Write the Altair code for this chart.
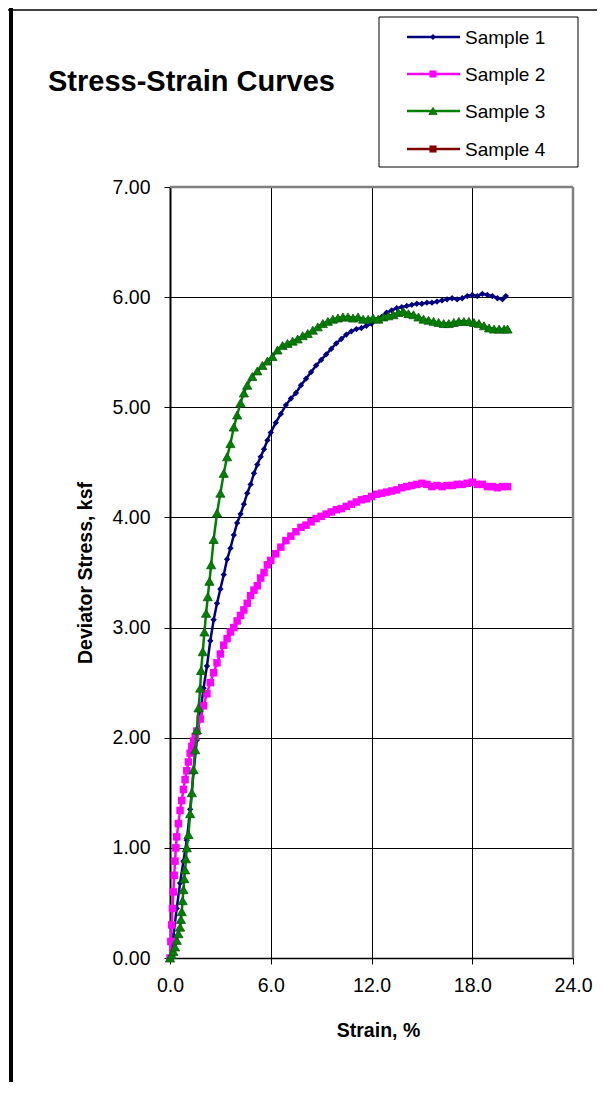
import altair as alt
import pandas as pd

# ---------------- data ----------------
series_names = ["Sample 1", "Sample 2", "Sample 3", "Sample 4"]
series_colors = ["#000080", "#FF00FF", "#008000", "#800000"]
series_shapes = ["diamond", "square", "triangle-up", "square"]

s1_strain = [0.0, 0.2, 0.4, 0.6, 0.8, 1.0, 1.2, 1.4, 1.6, 1.8, 2.0, 2.2, 2.4, 2.6, 2.8,
             3.0, 3.2, 3.4, 3.6, 3.8, 4.0, 4.2, 4.4, 4.6, 4.8, 5.0, 5.2, 5.4, 5.6, 5.8,
             6.0, 6.3, 6.6, 6.9, 7.2, 7.5, 7.8, 8.1, 8.4, 8.7, 9.0, 9.3, 9.6, 9.9, 10.2,
             10.5, 10.8, 11.1, 11.4, 11.7, 12.0, 12.3, 12.6, 12.9, 13.2, 13.5, 13.8, 14.1,
             14.4, 14.7, 15.0, 15.3, 15.6, 15.9, 16.2, 16.5, 16.8, 17.1, 17.4, 17.7, 18.0,
             18.3, 18.6, 18.9, 19.2, 19.5, 19.8, 20.0]
s1_stress = [0.00, 0.20, 0.45, 0.68, 0.88, 1.07, 1.35, 1.68, 1.98, 2.22, 2.45, 2.65, 2.88, 3.07, 3.22,
             3.35, 3.48, 3.62, 3.72, 3.84, 3.95, 4.03, 4.12, 4.22, 4.30, 4.40, 4.48, 4.55, 4.62, 4.70,
             4.77, 4.86, 4.94, 5.02, 5.08, 5.13, 5.20, 5.26, 5.32, 5.38, 5.43, 5.48, 5.53, 5.58, 5.62,
             5.66, 5.69, 5.71, 5.72, 5.74, 5.76, 5.79, 5.82, 5.86, 5.88, 5.90, 5.91, 5.92,
             5.93, 5.94, 5.94, 5.95, 5.95, 5.96, 5.97, 5.98, 5.99, 5.98, 5.99, 6.01, 6.02,
             6.01, 6.03, 6.02, 6.01, 5.99, 5.98, 6.01]

s2_strain = [0.0, 0.05, 0.1, 0.15, 0.2, 0.25, 0.3, 0.35, 0.4, 0.5, 0.6, 0.7, 0.8, 0.9, 1.0,
             1.1, 1.2, 1.3, 1.4, 1.5, 1.6, 1.8, 2.0, 2.2, 2.4, 2.6, 2.8, 3.0, 3.2, 3.4,
             3.6, 3.8, 4.0, 4.2, 4.4, 4.6, 4.8, 5.0, 5.2, 5.4, 5.6, 5.8, 6.0, 6.3, 6.6,
             6.9, 7.2, 7.5, 7.8, 8.1, 8.4, 8.7, 9.0, 9.3, 9.6, 9.9, 10.2, 10.5, 10.8, 11.1,
             11.4, 11.7, 12.0, 12.3, 12.6, 12.9, 13.2, 13.5, 13.8, 14.1, 14.4, 14.7, 15.0,
             15.3, 15.6, 15.9, 16.2, 16.5, 16.8, 17.1, 17.4, 17.7, 18.0, 18.3, 18.6, 18.9,
             19.2, 19.5, 19.8, 20.1]
s2_stress = [0.00, 0.15, 0.30, 0.45, 0.60, 0.75, 0.88, 1.00, 1.10, 1.22, 1.34, 1.43, 1.53, 1.62, 1.70,
             1.78, 1.86, 1.92, 1.97, 2.01, 2.06, 2.17, 2.29, 2.40, 2.50, 2.59, 2.68, 2.76, 2.84, 2.90,
             2.96, 3.00, 3.06, 3.11, 3.16, 3.22, 3.29, 3.34, 3.38, 3.45, 3.50, 3.57, 3.61, 3.67, 3.73,
             3.79, 3.83, 3.87, 3.91, 3.93, 3.96, 3.99, 4.01, 4.03, 4.05, 4.07, 4.08, 4.10, 4.12, 4.14,
             4.16, 4.17, 4.19, 4.21, 4.22, 4.23, 4.24, 4.25, 4.27, 4.28, 4.29, 4.30, 4.31,
             4.30, 4.28, 4.29, 4.28, 4.29, 4.29, 4.30, 4.30, 4.31, 4.32, 4.30, 4.30, 4.28,
             4.28, 4.27, 4.28, 4.28]

s3_strain = [0.0, 0.1, 0.2, 0.3, 0.4, 0.5, 0.6, 0.65, 0.7, 0.75, 0.8, 0.85, 0.9, 0.95, 1.0,
             1.1, 1.2, 1.3, 1.4, 1.5, 1.6, 1.7, 1.8, 1.85, 1.95, 2.05, 2.15, 2.25, 2.35, 2.45,
             2.6, 2.8, 3.0, 3.2, 3.4, 3.6, 3.8, 4.0, 4.2, 4.4, 4.6, 4.9, 5.2, 5.5, 5.8,
             6.1, 6.4, 6.7, 7.0, 7.3, 7.6, 7.9, 8.2, 8.5, 8.8, 9.1, 9.4, 9.7, 10.0, 10.3,
             10.6, 10.9, 11.2, 11.5, 11.8, 12.1, 12.4, 12.7, 13.0, 13.3, 13.6, 13.9, 14.2,
             14.5, 14.8, 15.1, 15.4, 15.7, 16.0, 16.3, 16.6, 16.9, 17.2, 17.5, 17.8, 18.1,
             18.4, 18.7, 19.0, 19.3, 19.6, 19.9, 20.1]
s3_stress = [0.00, 0.03, 0.06, 0.10, 0.16, 0.22, 0.28, 0.35, 0.42, 0.52, 0.62, 0.72, 0.80, 0.90, 1.00,
             1.12, 1.31, 1.50, 1.71, 1.89, 2.07, 2.27, 2.45, 2.61, 2.78, 2.96, 3.13, 3.28, 3.42, 3.57,
             3.80, 4.04, 4.22, 4.40, 4.55, 4.67, 4.82, 4.93, 5.04, 5.13, 5.20, 5.28, 5.33, 5.38, 5.42,
             5.46, 5.52, 5.56, 5.58, 5.60, 5.62, 5.65, 5.67, 5.70, 5.73, 5.76, 5.78, 5.80, 5.81, 5.82,
             5.82, 5.81, 5.82, 5.80, 5.80, 5.81, 5.80, 5.82, 5.83, 5.84, 5.86, 5.87, 5.85,
             5.84, 5.82, 5.80, 5.79, 5.78, 5.77, 5.76, 5.76, 5.77, 5.78, 5.78, 5.78, 5.77,
             5.76, 5.74, 5.72, 5.71, 5.71, 5.71, 5.71]

x_ticks = [0, 6, 12, 18, 24]
y_ticks = [0, 1, 2, 3, 4, 5, 6, 7]

# ---------------- layout ----------------
W, H = 403, 771
BOTTOM = 124
FONT = "Liberation Sans"

series_data = {
    "Sample 1": (s1_strain, s1_stress),
    "Sample 2": (s2_strain, s2_stress),
    "Sample 3": (s3_strain, s3_stress),
}
rows = []
for name, (xs, ys) in series_data.items():
    assert len(xs) == len(ys), name
    for xv, yv in zip(xs, ys):
        rows.append({"series": name, "strain": xv, "stress": yv})
df = pd.DataFrame(rows)

x_axis = alt.Axis(values=x_ticks, format=".1f", title="Strain, %", grid=True,
                  gridColor="#000000", gridWidth=1, domainColor="#000000", domainWidth=1.5,
                  tickColor="#000000", tickSize=6, labelPadding=12, labelFontSize=19.5,
                  labelFont=FONT, labelColor="#000000", titleFont=FONT, titleFontSize=19.5,
                  titleFontWeight="bold", titleColor="#000000", titleX=208, titleY=72,
                  titleBaseline="middle", labelFlush=False)
y_axis = alt.Axis(values=y_ticks, format=".2f", title="Deviator Stress, ksf", grid=True,
                  gridColor="#000000", gridWidth=1, domainColor="#000000", domainWidth=2,
                  tickColor="#000000", tickSize=6, labelPadding=14, labelFontSize=19.5,
                  labelFont=FONT, labelColor="#000000", titleFont=FONT, titleFontSize=19.5,
                  titleFontWeight="bold", titleColor="#000000", titleX=-85, titleY=H / 2,
                  titleAngle=270, titleBaseline="middle", titleAlign="center", labelFlush=False)

xs_enc = alt.X("strain:Q", scale=alt.Scale(domain=[0, 24], nice=False), axis=x_axis)
ys_enc = alt.Y("stress:Q", scale=alt.Scale(domain=[0, 7], nice=False), axis=y_axis)

marker_size = {"Sample 1": 40, "Sample 2": 56, "Sample 3": 85}
line_width = {"Sample 1": 2.5, "Sample 2": 2.5, "Sample 3": 2.5}

layers = []
for name, color, shape in zip(series_names, series_colors, series_shapes):
    if name not in series_data:
        continue
    sub = df[df.series == name]
    line = alt.Chart(sub).mark_line(color=color, strokeWidth=line_width[name]).encode(x=xs_enc, y=ys_enc)
    if name == "Sample 3":
        pts = alt.Chart(sub).mark_point(shape=shape, filled=True, fill=color, stroke="#0a5a0a",
                                        strokeWidth=0.8, opacity=1, size=marker_size[name])
    else:
        pts = alt.Chart(sub).mark_point(shape=shape, filled=True, color=color, opacity=1,
                                        size=marker_size[name])
    layers += [line, pts.encode(x=xs_enc, y=ys_enc)]

# plot-area border (top and right, gray) drawn through the scales
border_df = pd.DataFrame({"x0": [0], "x1": [24], "y0": [0], "y1": [7]})
top_border = alt.Chart(border_df).mark_rule(color="#808080", strokeWidth=2.5).encode(
    x=alt.X("x0:Q", scale=alt.Scale(domain=[0, 24], nice=False)), x2="x1:Q",
    y=alt.Y("y1:Q", scale=alt.Scale(domain=[0, 7], nice=False)))
right_border = alt.Chart(border_df).mark_rule(color="#808080", strokeWidth=2.5).encode(
    x=alt.X("x1:Q", scale=alt.Scale(domain=[0, 24], nice=False)),
    y=alt.Y("y0:Q", scale=alt.Scale(domain=[0, 7], nice=False)), y2="y1:Q")

one = pd.DataFrame({"k": [0]})

# outer frame
frame_left = alt.Chart(one).mark_rule(color="#000000", strokeWidth=4).encode(
    x=alt.value(-159), y=alt.value(-179), y2=alt.value(H + BOTTOM))
frame_top = alt.Chart(one).mark_rule(color="#000000", strokeWidth=1.5).encode(
    x=alt.value(-162), x2=alt.value(W + 40), y=alt.value(-177))

# chart title
title = alt.Chart(one).mark_text(text="Stress-Strain Curves", font=FONT, fontSize=29,
                                 fontWeight="bold", align="left", baseline="alphabetic",
                                 color="#000000").encode(x=alt.value(-122), y=alt.value(-96))

# legend box
legend_box = alt.Chart(one).mark_rect(fill="#ffffff", stroke="#000000", strokeWidth=1).encode(
    x=alt.value(209), x2=alt.value(408), y=alt.value(-170), y2=alt.value(-20))
legend_layers = [legend_box]
leg_y = [-150, -113, -76, -38]
leg_size = {"Sample 1": 35, "Sample 2": 50, "Sample 3": 70, "Sample 4": 50}
for name, color, shape, ly in zip(series_names, series_colors, series_shapes, leg_y):
    legend_layers.append(alt.Chart(one).mark_rule(color=color, strokeWidth=2.5).encode(
        x=alt.value(237), x2=alt.value(290), y=alt.value(ly)))
    if name == "Sample 3":
        mk = alt.Chart(one).mark_point(shape=shape, filled=True, fill=color, stroke="#0a5a0a",
                                       strokeWidth=0.8, opacity=1, size=leg_size[name])
    else:
        mk = alt.Chart(one).mark_point(shape=shape, filled=True, color=color, opacity=1,
                                       size=leg_size[name])
    legend_layers.append(mk.encode(x=alt.value(263), y=alt.value(ly)))
    legend_layers.append(alt.Chart(one).mark_text(text=name, font=FONT, fontSize=19,
                                                  align="left", baseline="middle",
                                                  color="#000000").encode(
        x=alt.value(295), y=alt.value(ly + 1)))

chart = alt.layer(*layers, top_border, right_border, frame_left, frame_top, title,
                  *legend_layers).properties(
    width=W, height=H,
    autosize=alt.AutoSizeParams(type="none"),
    padding={"left": 162, "top": 179, "right": 24, "bottom": BOTTOM},
    background="#ffffff",
).configure_view(stroke=None)

chart.save("out.html", embed_options={"renderer": "svg", "actions": False})
